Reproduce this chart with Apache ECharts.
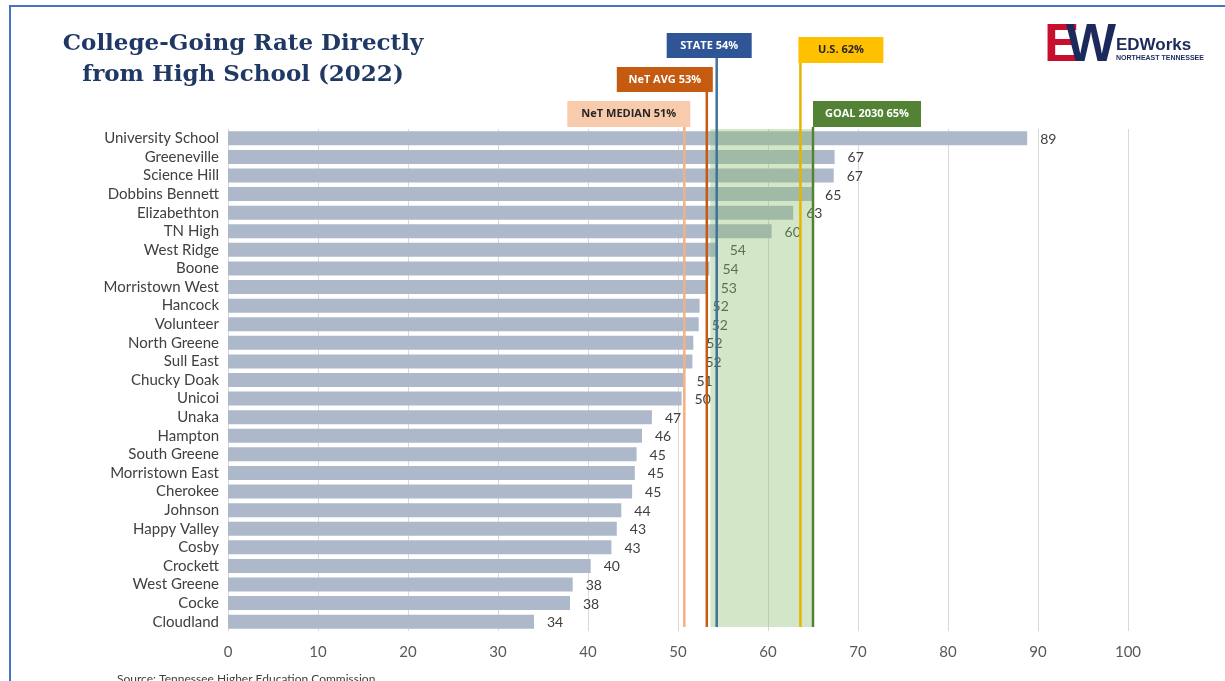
<!DOCTYPE html>
<html>
<head>
<meta charset="utf-8">
<script src="https://cdn.jsdelivr.net/npm/echarts@6/dist/echarts.min.js"></script>
<style>
html,body{margin:0;padding:0;background:#fff;}
#chart{width:1225px;height:681px;}
</style>
</head>
<body>
<div id="chart"></div>
<script>
// ---- data ----
const schools = ['University School','Greeneville','Science Hill','Dobbins Bennett','Elizabethton','TN High','West Ridge','Boone','Morristown West','Hancock','Volunteer','North Greene','Sull East','Chucky Doak','Unicoi','Unaka','Hampton','South Greene','Morristown East','Cherokee','Johnson','Happy Valley','Cosby','Crockett','West Greene','Cocke','Cloudland'];
const rates = [88.8,67.4,67.3,64.9,62.8,60.4,54.3,53.5,53.3,52.4,52.3,51.7,51.6,50.6,50.4,47.1,46.0,45.4,45.2,44.9,43.7,43.2,42.6,40.3,38.3,38.0,34.0];
const refNames = ['NeT MEDIAN 51%','NeT AVG 53%','STATE 54%','U.S. 62%','GOAL 2030 65%'];
const refValues = [50.7,53.2,54.3,63.6,65.0];
const goalBand = [53.6,65.0];
const xTicks = [0,10,20,30,40,50,60,70,80,90,100];

// ---- styles (layout only) ----
const refStyle = [
  {line:'#F4B183', box:'#F8CBAD', text:'#262626', dx:-117, top:101, w:123, h:26},
  {line:'#C55A11', box:'#C55A11', text:'#ffffff', dx:-90,  top:67,  w:96,  h:25},
  {line:'#41719C', box:'#2F5597', text:'#ffffff', dx:-50,  top:33,  w:85,  h:25},
  {line:'#E8B400', box:'#FFC000', text:'#262626', dx:-2,   top:37,  w:85,  h:26},
  {line:'#548235', box:'#548235', text:'#ffffff', dx:0,    top:101, w:108, h:26}
];

const chart = echarts.init(document.getElementById('chart'));
chart.setOption({
  backgroundColor:'#fff',
  animation:false,
  title:{
    text:'College-Going Rate Directly\nfrom High School (2022)',
    left:238, top:24, textAlign:'center',
    textStyle:{fontFamily:'DejaVu Serif', fontWeight:'bold', fontSize:23, lineHeight:31, color:'#1F3864'}
  },
  grid:{left:228, top:129, width:900, height:502, containLabel:false},
  xAxis:{
    type:'value', min:xTicks[0], max:xTicks[xTicks.length-1], interval:10,
    axisLine:{show:false}, axisTick:{show:false},
    splitLine:{show:true, lineStyle:{color:'#D9D9D9', width:1}},
    axisLabel:{fontFamily:'Lato', fontSize:15, color:'#595959', margin:14}
  },
  yAxis:{
    type:'category', inverse:true, data:schools,
    axisLine:{show:false}, axisTick:{show:false},
    axisLabel:{fontFamily:'Lato', fontSize:15, color:'#404040', margin:9, interval:0}
  },
  series:[
    {
      type:'bar', data:rates, barWidth:14, z:2,
      itemStyle:{color:'#ADB9CA'},
      label:{show:true, position:'right', distance:13, offset:[0,1], fontFamily:'Lato', fontSize:14, color:'#404040',
        formatter:p=>Math.round(p.value)},
      silent:true
    },
    {
      type:'custom', z:3, silent:true, clip:false,
      data:[[goalBand[0], goalBand[1]]],
      renderItem:function(params, api){
        const cs = params.coordSys;
        const x0 = api.coord([api.value(0), 0])[0];
        const x1 = api.coord([api.value(1), 0])[0];
        return {type:'rect', shape:{x:x0, y:cs.y, width:x1-x0, height:cs.height-4},
          style:{fill:'rgba(140,190,110,0.38)'}};
      }
    },
    {
      type:'custom', z:4, silent:true, clip:false,
      data:refValues.map((v,i)=>[v,i]),
      renderItem:function(params, api){
        const cs = params.coordSys;
        const i = params.dataIndex;
        const s = refStyle[i];
        const x = api.coord([api.value(0), 0])[0];
        const bx = x + s.dx;
        return {type:'group', children:[
          {type:'line', shape:{x1:x, y1:s.top+s.h, x2:x, y2:cs.y+cs.height-4},
            style:{stroke:s.line, lineWidth:2.5}},
          {type:'rect', shape:{x:bx, y:s.top, width:s.w, height:s.h},
            style:{fill:s.box}},
          {type:'text', x:bx+s.w/2, y:s.top+s.h/2,
            style:{text:refNames[i], fill:s.text, fontFamily:'Open Sans', fontWeight:'bold', fontSize:11,
              align:'center', verticalAlign:'middle'}}
        ]};
      }
    }
  ],
  graphic:[
    {type:'polyline', silent:true, shape:{points:[[10,700],[10,6],[1300,6]]},
      style:{stroke:'#4472C4', lineWidth:2, fill:null}},
    {type:'text', left:1044, top:20, silent:true,
      style:{text:'E', fontFamily:'Liberation Sans', fontWeight:900, fontSize:53, fill:'#C8102E'}},
    {type:'text', left:1066, top:20, silent:true,
      style:{text:'W', fontFamily:'Liberation Sans', fontWeight:900, fontSize:53, fill:'#1B2A5B'}},
    {type:'text', left:1116, top:37, silent:true,
      style:{text:'EDWorks', fontFamily:'Liberation Sans', fontWeight:'bold', fontSize:17, fill:'#1B2A5B'}},
    {type:'text', left:1116, top:55, silent:true,
      style:{text:'NORTHEAST TENNESSEE', fontFamily:'Liberation Sans', fontWeight:'bold', fontSize:7, fill:'#1B2A5B'}},
    {type:'text', left:117, top:673, silent:true,
      style:{text:'Source: Tennessee Higher Education Commission', fontFamily:'Lato', fontSize:12, fill:'#404040'}}
  ]
});
</script>
</body>
</html>
